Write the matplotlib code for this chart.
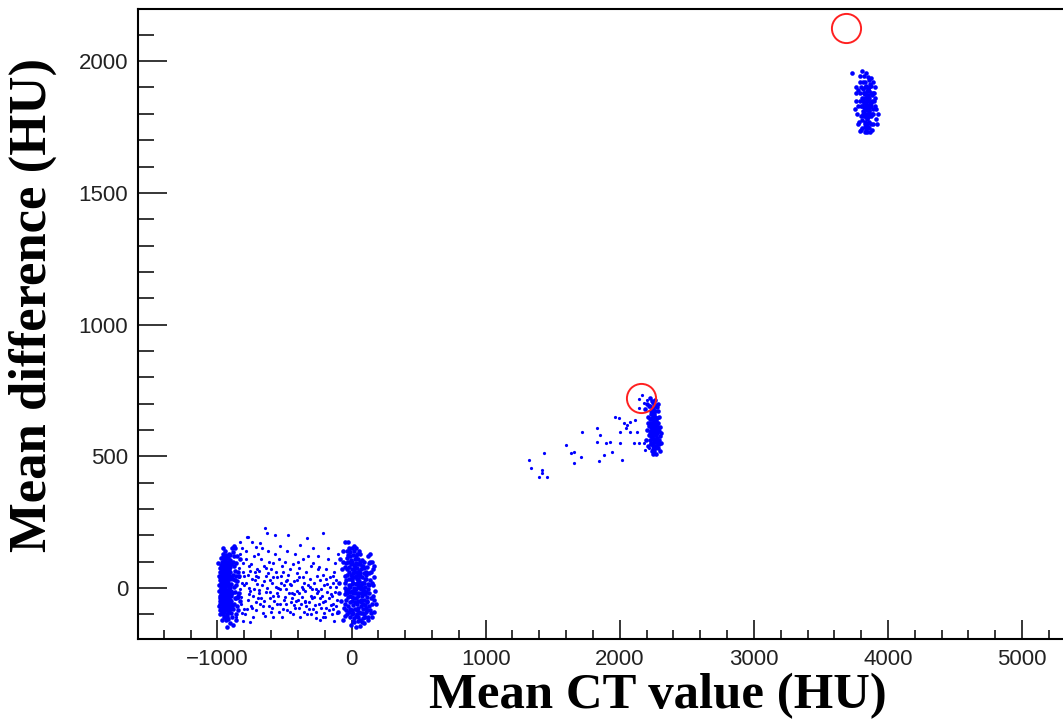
import matplotlib
matplotlib.use('Agg')
import matplotlib.pyplot as plt
import matplotlib.ticker as ticker
import numpy as np

# dense cluster near air (-1000 HU)
air_core = [
    (-962, 12), (-941, -35), (-975, 58), (-930, 84), (-955, -78), (-918, 20), (-948, 110), (-970, -12), (-936, -60), (-925, 45),
    (-980, 30), (-952, 70), (-910, -20), (-966, -95), (-944, 5), (-921, 98), (-958, -45), (-939, 125), (-972, 88), (-915, -70),
    (-984, -30), (-947, 40), (-928, -98), (-960, 95), (-933, -8), (-906, 60), (-978, -60), (-951, -110), (-923, 115), (-964, 48),
    (-940, -85), (-912, 8), (-969, -40), (-956, 130), (-931, 22), (-903, -45), (-987, 10), (-945, 75), (-920, -55), (-961, -70),
    (-937, 100), (-974, 115), (-909, 35), (-949, -25), (-926, -115), (-967, 65), (-942, -50), (-915, 78), (-982, -85), (-953, 25),
    (-900, -10), (-934, 55), (-959, -100), (-929, -30), (-976, 0), (-946, 90), (-918, -88), (-963, -18), (-939, 38), (-905, 105),
    (-971, -50), (-957, 52), (-924, 68), (-943, -68), (-988, 45), (-914, -35), (-950, 118), (-932, -105), (-966, 28), (-898, 15),
    (-979, 75), (-944, -5), (-927, -78), (-960, -32), (-936, 10), (-911, 48), (-973, -75), (-954, 85), (-921, -12), (-948, -92),
    (-985, -10), (-938, 68), (-917, 128), (-962, -58), (-930, -40), (-968, 100), (-902, -60), (-945, 18), (-958, 42), (-925, -22),
    (-977, -100), (-940, 55), (-913, -90), (-952, -15), (-934, 92), (-970, 35), (-907, 80), (-947, -45), (-965, 5), (-920, 32),
    (-981, 60), (-955, -88), (-928, 12), (-943, 140), (-916, -5), (-959, 80), (-935, -72), (-973, 20), (-950, -60), (-896, -30),
    (-930, 62), (-962, -120), (-908, -80), (-945, 108), (-977, -40), (-922, -60), (-953, 0), (-939, -18), (-968, 72), (-901, 40),
    (-880, 50), (-870, -40), (-865, 95), (-885, -80), (-860, 10), (-875, 120), (-855, -70), (-890, -110), (-872, 30), (-848, 60),
    (-862, -100), (-893, 150), (-840, -20), (-878, 160), (-886, -140), (-906, -135), (-925, -150),
    (-990, -70), (-992, 95), (-935, -120), (-955, 150), (-918, -118), (-898, 90), (-888, -20), (-876, -60), (-868, 65), (-852, 25),
    (-835, 110), (-845, -85), (-882, 135), (-858, -120), (-896, -95), (-904, 125), (-866, -15), (-874, 82), (-842, 45), (-828, -50),
    (-948, 60), (-932, -52), (-957, -8), (-941, 30), (-925, 88), (-963, -82), (-911, -62), (-969, 50), (-936, -28), (-952, 102),
    (-919, 58), (-974, -22), (-943, -112), (-928, 42), (-960, 118), (-906, 2), (-983, -48), (-946, -72), (-931, 112), (-915, -45),
    (-965, 15), (-939, 78), (-922, -8), (-955, -35), (-909, 92), (-978, 40), (-949, -82), (-926, 25), (-971, -5), (-913, 70),
    (-895, -50), (-887, 35), (-879, 5), (-863, -40), (-871, 150), (-854, 120), (-850, -30), (-883, 100), (-891, -70), (-861, 45),
]

# dense cluster near water (0 HU)
water_core = [
    (12, 20), (45, -30), (-20, 60), (70, 10), (30, 95), (-35, -20), (88, -60), (5, -85), (55, 48), (-10, 120),
    (25, -55), (100, 5), (-42, 30), (62, -95), (18, 140), (80, 40), (-25, -70), (40, 75), (115, -35), (0, -10),
    (50, 110), (-15, 5), (92, -100), (35, -5), (-48, 80), (75, -20), (8, 55), (128, -70), (-30, -100), (58, 25),
    (20, -115), (105, 60), (-5, 90), (68, -45), (42, 130), (-38, -45), (85, 85), (15, -40), (120, 15), (-22, 35),
    (52, -75), (2, 150), (95, -10), (30, 45), (-45, 0), (72, 70), (10, -65), (110, -90), (-12, -30), (48, 5),
    (25, 110), (-28, 100), (82, -80), (38, -100), (135, 30), (-8, -55), (60, 90), (22, 70), (-40, -85), (98, 35),
    (6, 30), (65, -120), (32, 15), (-18, 140), (118, -50), (45, -50), (-50, 45), (78, 105), (14, -95), (102, -25),
    (55, 65), (-32, 70), (88, 0), (28, -80), (-2, 105), (125, -5), (40, 35), (-25, -5), (70, -70), (12, 125),
    (108, 50), (50, -110), (-15, -110), (35, 60), (90, -45), (0, 70), (62, 45), (-45, -60), (142, -40), (20, 0),
    (80, -30), (15, 88), (-35, 115), (58, -20), (96, 75), (28, -20), (-10, -80), (118, -85), (45, 90), (5, -35),
    (75, 20), (-22, 10), (132, 55), (38, -60), (65, 130), (-5, 50), (100, -65), (18, 40), (-40, 95), (85, -115),
    (52, 15), (10, -125), (110, -15), (30, 120), (-28, -35), (68, -5), (95, 100), (42, -85), (-50, -25), (22, -130),
    (150, 20), (165, -45), (160, 70), (175, -10), (145, -95), (170, 40), (155, 100), (-75, -50), (-90, 20), (-70, 70),
    (-100, -90), (-85, 110), (-60, 140), (180, -60), (138, 130), (-45, 176), (-25, 176), (-20, 150), (120, 120), (95, -135),
    (60, -145), (-5, -140), (35, -150), (150, -110), (130, 95), (-95, -20), (-65, -120),
    (0, 15), (20, -10), (40, 20), (60, 0), (85, 20), (110, 35), (130, -20), (150, -60), (160, 10), (145, 60),
    (-30, 50), (-15, -15), (5, 100), (25, 80), (45, 55), (65, 100), (90, 55), (115, 80), (140, 100), (125, -110),
    (-45, -105), (-20, -90), (5, -100), (30, -105), (55, -90), (80, -95), (100, -110), (120, -120), (75, -130), (45, -125),
    (-35, 140), (-8, 135), (15, 160), (35, 150), (55, 140), (-25, 125), (0, 40), (35, -40), (70, -55), (105, -75),
    (-52, 20), (-40, -10), (12, -20), (50, 35), (88, -15), (128, 10), (158, -30), (170, 85), (-60, 100), (-55, -75),
    (20, 60), (42, -18), (64, 58), (92, 20), (112, -55), (6, -50), (-18, 80), (76, 82), (136, -85), (166, -90),
]

# sparse points between air and water
lung_band = [
    (-838, 40), (-825, -60), (-812, 95), (-845, -20), (-805, 10), (-830, 130), (-818, -95), (-808, 60), (-842, 75), (-822, -35),
    (-832, 176), (-815, 150), (-801, -80),
    (-790, 20), (-775, -45), (-762, 85), (-785, 110), (-758, -10), (-795, -100), (-770, 50), (-752, -70), (-782, 195), (-770, 195),
    (-745, 176), (-788, 140), (-765, 0),
    (-738, -30), (-722, 60), (-710, -85), (-745, 35), (-705, 15), (-730, 120), (-715, -55), (-748, 90), (-725, -5), (-702, 70),
    (-735, -110), (-712, 155), (-720, 30), (-683, 170),
    (-695, 40), (-680, -60), (-668, 10), (-690, -20), (-655, 85), (-675, 110), (-660, -95), (-698, 130), (-672, -40), (-652, 25),
    (-688, 65), (-646, 227), (-665, 150),
    (-640, -15), (-625, 55), (-612, -70), (-633, 208), (-605, 30), (-645, -105), (-618, 100), (-630, 0), (-608, -40), (-622, 140),
    (-638, 75), (-602, -90),
    (-592, 20), (-578, -50), (-565, 60), (-571, 201), (-588, -110), (-555, -20), (-582, 95), (-560, 5), (-595, -75), (-568, 130),
    (-552, -60), (-585, 40),
    (-545, -30), (-528, 45), (-512, -80), (-540, 110), (-505, 10), (-535, -60), (-520, 85), (-548, 0), (-515, -110), (-532, 160),
    (-502, -45), (-525, 20),
    (-490, -60), (-472, 201), (-478, 30), (-465, -20), (-455, 70), (-495, 100), (-460, -90), (-485, -5), (-452, -55), (-482, 140),
    (-470, 50), (-498, -35),
    (-445, -40), (-430, 25), (-418, -75), (-440, 90), (-405, -10), (-425, 130), (-435, -100), (-410, 55), (-448, 10), (-415, -50),
    (-428, -25), (-402, 100),
    (-395, -20), (-385, 163), (-378, -60), (-365, 40), (-390, 75), (-355, -90), (-372, 5), (-398, -45), (-360, 110), (-382, -110),
    (-352, 20), (-368, -35),
    (-345, -50), (-335, 189), (-328, 10), (-315, -80), (-340, 60), (-305, -30), (-322, 120), (-348, -10), (-310, 35), (-332, -100),
    (-318, -55), (-302, 85),
    (-295, -40), (-280, 20), (-268, -90), (-290, 95), (-255, -20), (-275, -65), (-285, 150), (-260, 45), (-298, -5), (-265, -115),
    (-252, 70), (-278, -35),
    (-245, -60), (-232, 30), (-218, -30), (-211, 208), (-240, 80), (-205, -95), (-225, -5), (-248, 120), (-215, 50), (-235, -120),
    (-202, 10), (-228, -75),
    (-195, -50), (-180, 15), (-168, -85), (-190, 70), (-155, -25), (-175, 110), (-160, 40), (-198, -110), (-185, -15), (-152, -65),
    (-172, 150), (-188, 35),
    (-145, -30), (-130, 60), (-118, -70), (-140, 20), (-105, -45), (-125, 95), (-148, -100), (-112, 5), (-135, -60), (-102, 130),
    (-122, -15), (-138, 45),
    (-828, -5), (-798, 45), (-768, -25), (-742, -75), (-715, 45), (-692, -8), (-662, -70), (-636, 45), (-610, -15), (-584, -30),
    (-556, 40), (-530, -5), (-508, 60), (-480, -85), (-458, 15), (-432, -65), (-408, 30), (-388, -75), (-362, -5), (-338, -70),
    (-312, 5), (-288, -80), (-262, -5), (-238, -40), (-212, -55), (-188, -75), (-162, 5), (-138, -80), (-115, 30), (-108, -95),
    (-820, 20), (-780, -80), (-755, 65), (-700, -40), (-650, -50), (-598, 70), (-540, -90), (-490, 25), (-442, -20), (-395, 40),
    (-350, -55), (-300, -100), (-250, -10), (-210, -110), (-170, -40), (-128, -125), (-850, -40), (-860, -110), (-810, -125), (-760, -130),
]

# trail leading up to the bone insert
bone_trail = [
    (1322, 486), (1335, 454), (1421, 448), (1421, 435), (1397, 422), (1459, 422), (1434, 511), (1596, 543), (1633, 513),
    (1658, 517), (1658, 473), (1708, 498), (1720, 593), (1832, 606), (1856, 580), (1832, 555), (1894, 551), (1931, 555),
    (1844, 482), (1881, 505), (1943, 517), (2018, 486), (2005, 551), (1968, 650), (1993, 644), (2030, 625), (2055, 619),
    (2080, 631), (2117, 638), (2005, 593), (2043, 606), (2080, 593), (2129, 593), (2104, 551), (2141, 551), (2178, 551),
    (2147, 716), (2141, 682), (2167, 732), (2178, 701), (2204, 713), (2191, 524), (2216, 530),
]

bone_core = [
    (2245, 620), (2260, 580), (2230, 660), (2270, 540), (2252, 700), (2238, 600), (2275, 615), (2222, 640), (2258, 555), (2290, 560),
    (2248, 680), (2265, 530), (2235, 575), (2280, 590), (2242, 645), (2255, 610), (2228, 690), (2268, 600), (2250, 540), (2240, 625),
    (2285, 530), (2232, 610), (2262, 670), (2246, 565), (2275, 645), (2225, 595), (2256, 635), (2240, 710), (2270, 560), (2295, 545),
    (2236, 550), (2264, 625), (2250, 655), (2282, 605), (2228, 628), (2258, 520), (2244, 590), (2272, 580), (2238, 668), (2266, 650),
    (2300, 575), (2230, 545), (2254, 598), (2286, 625), (2248, 528), (2262, 690), (2220, 615), (2276, 555), (2242, 572), (2258, 662),
    (2234, 640), (2268, 612), (2252, 585), (2245, 705), (2280, 570), (2226, 585), (2262, 540), (2250, 628), (2238, 520), (2292, 595),
    (2256, 648), (2232, 672), (2270, 632), (2246, 550), (2284, 548), (2240, 598), (2275, 685), (2224, 560), (2266, 595), (2255, 565),
    (2195, 560), (2205, 600), (2210, 650), (2215, 690), (2200, 700), (2300, 610), (2305, 550), (2310, 590), (2290, 650), (2282, 700),
    (2212, 540), (2218, 580), (2285, 670), (2298, 520), (2272, 510), (2250, 510), (2225, 720), (2262, 715), (2208, 625), (2190, 680),
]

metal_core = [
    (3835, 1840), (3850, 1800), (3820, 1880), (3860, 1860), (3845, 1780), (3828, 1820), (3870, 1830), (3812, 1850), (3855, 1900), (3840, 1760),
    (3866, 1800), (3825, 1920), (3848, 1870), (3832, 1790), (3878, 1850), (3815, 1810), (3858, 1835), (3838, 1905), (3862, 1770), (3822, 1860),
    (3845, 1815), (3875, 1880), (3808, 1830), (3852, 1750), (3830, 1845), (3868, 1915), (3818, 1790), (3842, 1885), (3860, 1815), (3835, 1740),
    (3885, 1820), (3826, 1770), (3850, 1855), (3812, 1895), (3872, 1790), (3840, 1825), (3856, 1930), (3820, 1840), (3865, 1845), (3846, 1760),
    (3830, 1875), (3880, 1870), (3805, 1860), (3852, 1790), (3838, 1800), (3862, 1885), (3824, 1805), (3870, 1760), (3843, 1850), (3815, 1920),
    (3858, 1810), (3832, 1760), (3876, 1840), (3848, 1895), (3822, 1880), (3866, 1825), (3836, 1830), (3890, 1800), (3810, 1775), (3854, 1865),
    (3828, 1900), (3862, 1745), (3844, 1870), (3818, 1825), (3872, 1905), (3840, 1785), (3895, 1850), (3826, 1750), (3856, 1790), (3834, 1860),
    (3730, 1956), (3805, 1962), (3835, 1956), (3900, 1900), (3910, 1780), (3920, 1760), (3790, 1735), (3800, 1740), (3905, 1830), (3895, 1880),
    (3790, 1880), (3798, 1830),
    (3760, 1850), (3770, 1800), (3780, 1890), (3775, 1760), (3790, 1920), (3800, 1790), (3795, 1850), (3885, 1760), (3900, 1860), (3910, 1820),
    (3888, 1920), (3765, 1900), (3780, 1830), (3810, 1745), (3880, 1740), (3850, 1940), (3818, 1945), (3872, 1935), (3755, 1820), (3925, 1800),
    (3800, 1900), (3812, 1800), (3880, 1800), (3892, 1880), (3786, 1770), (3845, 1730), (3868, 1730), (3828, 1730), (3790, 1945), (3762, 1880),
]

# reference values (red circles)
ref_x = [2160, 3690]
ref_y = [721, 2127]

dense_groups = [air_core, water_core, bone_core, metal_core]
sparse_groups = [lung_band, bone_trail]

fig = plt.figure(figsize=(10.63, 7.23), dpi=100)
ax = fig.add_axes([138 / 1063, 84 / 723, 925 / 1063, 630 / 723])

for pts in sparse_groups:
    arr = np.array(pts, dtype=float)
    ax.plot(arr[:, 0], arr[:, 1], 'o', color='#0000ff', markersize=2.3,
            markeredgewidth=0)
for pts in dense_groups:
    arr = np.array(pts, dtype=float)
    ax.plot(arr[:, 0], arr[:, 1], 'o', color='#0000ff', markersize=3.3,
            markeredgewidth=0)

ax.plot(ref_x, ref_y, 'o', markerfacecolor='none', markeredgecolor='#ff2020',
        markersize=21, markeredgewidth=1.4)

ax.set_xlim(-1592, 5305)
ax.set_ylim(-194, 2198)

ax.xaxis.set_major_locator(ticker.MultipleLocator(1000))
ax.xaxis.set_minor_locator(ticker.MultipleLocator(200))
ax.yaxis.set_major_locator(ticker.MultipleLocator(500))
ax.yaxis.set_minor_locator(ticker.MultipleLocator(100))
ax.xaxis.set_major_formatter(ticker.FuncFormatter(lambda v, p: f'{int(v)}'.replace('-', '\u2212')))

ax.tick_params(axis='x', which='major', direction='in', length=13.5, width=1.1, pad=7)
ax.tick_params(axis='x', which='minor', direction='in', length=6.5, width=1.1)
ax.tick_params(axis='y', which='major', direction='in', length=21, width=1.1, pad=7)
ax.tick_params(axis='y', which='minor', direction='in', length=11.5, width=1.1)
for lbl in ax.get_xticklabels() + ax.get_yticklabels():
    lbl.set_fontfamily('Liberation Sans')
    lbl.set_fontsize(16)
    lbl.set_color('#222222')

ax.spines['right'].set_visible(False)
for s in ['left', 'bottom', 'top']:
    ax.spines[s].set_linewidth(1.5)

ax.set_xlabel('Mean CT value (HU)', fontfamily='Liberation Serif',
              fontweight='bold', fontsize=36.5, va='center')
ax.xaxis.set_label_coords(0.562, -0.091)
ax.set_ylabel('Mean difference (HU)', fontfamily='Liberation Serif',
              fontweight='bold', fontsize=38, va='center')
ax.yaxis.set_label_coords(-0.114, 0.53)

fig.savefig('out.png', dpi=100)
